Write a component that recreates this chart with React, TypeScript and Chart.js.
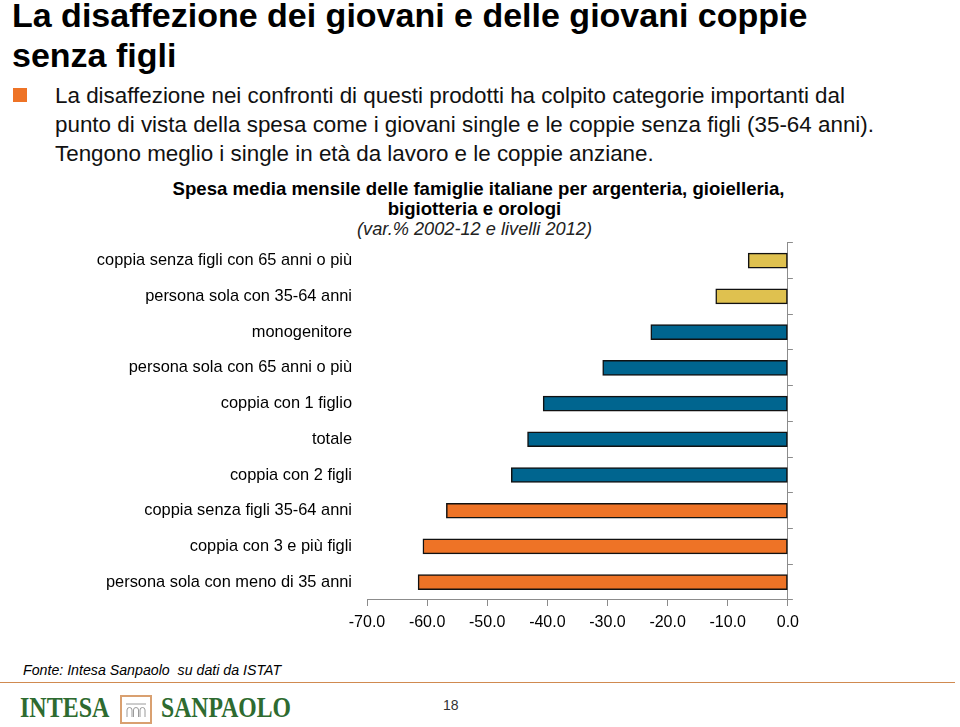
import React, { useEffect, useRef } from "react";
import { Chart, registerables } from "chart.js";

Chart.register(...registerables);

const categories = [
  "coppia senza figli con 65 anni o più",
  "persona sola con 35-64 anni",
  "monogenitore",
  "persona sola con 65 anni o più",
  "coppia con 1 figlio",
  "totale",
  "coppia con 2 figli",
  "coppia senza figli 35-64 anni",
  "coppia con 3 e più figli",
  "persona sola con meno di 35 anni",
];

const values = [-6.6, -12.0, -22.8, -30.8, -40.7, -43.3, -46.0, -56.8, -60.7, -61.5];

const YELLOW = "#DFC14F";
const BLUE = "#00658F";
const ORANGE = "#EE7326";
const barColors = [YELLOW, YELLOW, BLUE, BLUE, BLUE, BLUE, BLUE, ORANGE, ORANGE, ORANGE];

const xMin = -70;
const xMax = 0;
const xStep = 10;

const FONT = "'Liberation Sans', Arial, Helvetica, sans-serif";
const SERIF = "'Liberation Serif', 'DejaVu Serif', serif";
const AXIS_GRAY = "#8c8c8c";

function BarChart() {
  const ref = useRef<HTMLCanvasElement | null>(null);
  useEffect(() => {
    if (!ref.current) return;
    const chart = new Chart(ref.current, {
      type: "bar",
      data: {
        labels: categories,
        datasets: [
          {
            data: values,
            backgroundColor: barColors,
            borderColor: "#111",
            borderWidth: 1.5,
            borderSkipped: false,
            barThickness: 15,
          },
        ],
      },
      options: {
        indexAxis: "y",
        responsive: false,
        animation: false,
        layout: { padding: { top: 6, left: 0, right: 0, bottom: 0 } },
        plugins: { legend: { display: false }, tooltip: { enabled: false }, title: { display: false } },
        scales: {
          x: {
            type: "linear",
            position: "bottom",
            min: xMin,
            max: xMax,
            ticks: {
              stepSize: xStep,
              callback: (v: any) => Number(v).toFixed(1),
              color: "#000",
              font: { family: FONT, size: 16 },
              padding: 7,
              maxRotation: 0,
              autoSkip: false,
            },
            grid: { drawOnChartArea: false, drawTicks: true, tickLength: 6, color: AXIS_GRAY },
            border: { display: true, color: AXIS_GRAY, width: 1 },
            afterFit: (s: any) => {
              s.height = 40;
            },
          },
          y: {
            type: "category",
            position: "left",
            ticks: { color: "#000", font: { family: FONT, size: 16.4 }, padding: 15, autoSkip: false },
            grid: { display: false, drawTicks: false },
            border: { display: false },
            afterFit: (s: any) => {
              s.width = 367;
            },
          },
          y2: {
            type: "category",
            position: "right",
            offset: true,
            ticks: { display: false },
            grid: { drawOnChartArea: false, drawTicks: true, tickLength: 5, offset: true, color: AXIS_GRAY },
            border: { display: true, color: AXIS_GRAY, width: 1 },
            afterFit: (s: any) => {
              s.width = 14;
            },
          },
        },
      },
    } as any);
    return () => chart.destroy();
  }, []);
  return (
    <canvas
      ref={ref}
      width={806}
      height={422}
      style={{ position: "absolute", left: 0, top: 218, width: 806, height: 422 }}
    />
  );
}

export default function App() {
  return (
    <div
      style={{
        position: "absolute",
        left: 0,
        top: 0,
        width: 960,
        height: 727,
        overflow: "hidden",
        background: "#fff",
        fontFamily: FONT,
        color: "#000",
      }}
    >
      <div
        style={{
          position: "absolute",
          left: 12,
          top: -5,
          fontSize: 34,
          fontWeight: "bold",
          lineHeight: "40px",
          whiteSpace: "nowrap",
        }}
      >
        La disaffezione dei giovani e delle giovani coppie
        <br />
        senza figli
      </div>
      <div style={{ position: "absolute", left: 13, top: 88, width: 14, height: 14, background: "#EE7326" }} />
      <div
        style={{
          position: "absolute",
          left: 55,
          top: 81,
          fontSize: 22.4,
          lineHeight: "29px",
          whiteSpace: "nowrap",
          color: "#111",
        }}
      >
        La disaffezione nei confronti di questi prodotti ha colpito categorie importanti dal
        <br />
        punto di vista della spesa come i giovani single e le coppie senza figli (35-64 anni).
        <br />
        Tengono meglio i single in età da lavoro e le coppie anziane.
      </div>
      <div
        style={{
          position: "absolute",
          left: 0,
          top: 179,
          width: 957,
          textAlign: "center",
          lineHeight: "20px",
          whiteSpace: "nowrap",
        }}
      >
        <div style={{ fontSize: 18.6, fontWeight: "bold" }}>
          Spesa media mensile delle famiglie italiane per argenteria, gioielleria,
        </div>
        <div style={{ fontSize: 18.6, fontWeight: "bold", marginLeft: -8 }}>bigiotteria e orologi</div>
        <div style={{ fontSize: 18.2, fontStyle: "italic", color: "#222", marginLeft: -8 }}>
          (var.% 2002-12 e livelli 2012)
        </div>
      </div>
      <BarChart />
      <div
        style={{
          position: "absolute",
          left: 23,
          top: 660,
          fontSize: 14.2,
          fontStyle: "italic",
          whiteSpace: "nowrap",
          lineHeight: "20px",
        }}
      >
        Fonte: Intesa Sanpaolo&nbsp; su dati da ISTAT
      </div>
      <div style={{ position: "absolute", left: 0, top: 682, width: 955, height: 1, background: "#D08A50" }} />
      <div
        style={{
          position: "absolute",
          left: 20,
          top: 692,
          fontFamily: SERIF,
          fontWeight: "bold",
          fontSize: 30,
          lineHeight: "30px",
          color: "#2E6B30",
          whiteSpace: "nowrap",
          transform: "scaleX(0.8)",
          transformOrigin: "left top",
        }}
      >
        INTESA
      </div>
      <svg
        style={{ position: "absolute", left: 120, top: 695 }}
        width={32}
        height={29}
        viewBox="0 0 32 29"
      >
        <rect x={1} y={1} width={30} height={27} fill="#fff" stroke="#D9A070" strokeWidth={2} />
        <line x1={6} y1={9} x2={26} y2={9} stroke="#9a9a9a" strokeWidth={1} />
        <path
          d="M7 22 V15 a2.5 2.5 0 0 1 5 0 V22 M13.5 22 V15 a2.5 2.5 0 0 1 5 0 V22 M20 22 V15 a2.5 2.5 0 0 1 5 0 V22"
          fill="none"
          stroke="#9a9a9a"
          strokeWidth={1}
        />
      </svg>
      <div
        style={{
          position: "absolute",
          left: 161,
          top: 692,
          fontFamily: SERIF,
          fontWeight: "bold",
          fontSize: 30,
          lineHeight: "30px",
          color: "#2E6B30",
          whiteSpace: "nowrap",
          transform: "scaleX(0.79)",
          transformOrigin: "left top",
        }}
      >
        SANPAOLO
      </div>
      <div
        style={{
          position: "absolute",
          left: 443,
          top: 696,
          fontSize: 14,
          lineHeight: "18px",
          color: "#333",
        }}
      >
        18
      </div>
    </div>
  );
}
